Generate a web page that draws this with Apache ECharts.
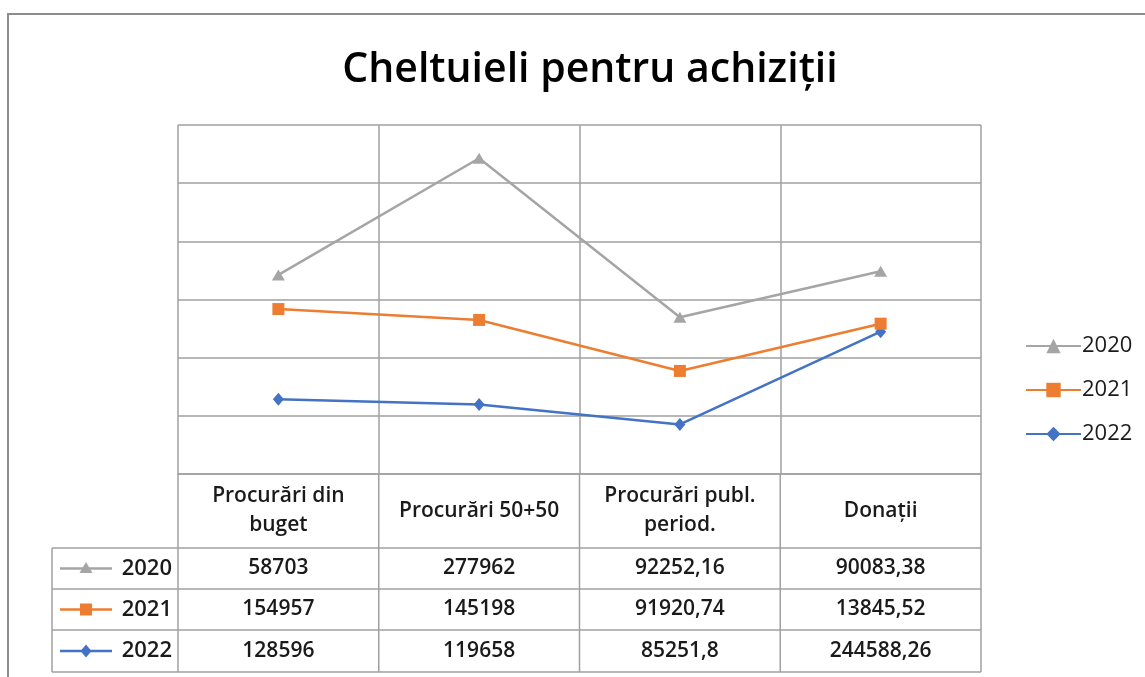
<!DOCTYPE html>
<html>
<head>
<meta charset="utf-8">
<script src="https://cdn.jsdelivr.net/npm/echarts@6/dist/echarts.min.js"></script>
<style>
  html, body { margin: 0; padding: 0; background: #fff; }
  #chart { width: 1145px; height: 677px; }
</style>
</head>
<body>
<div id="chart"></div>
<script>
// date citite din tabel
var categories = ['Procurări din\nbuget', 'Procurări 50+50', 'Procurări publ.\nperiod.', 'Donații'];
var years = ['2020', '2021', '2022'];
var values2020 = [58703, 277962, 92252.16, 90083.38];
var values2021 = [154957, 145198, 91920.74, 13845.52];
var values2022 = [128596, 119658, 85251.8, 244588.26];

var colors = { '2020': '#a5a5a5', '2021': '#ed7d31', '2022': '#4472c4' };
var symbols = { '2020': 'triangle', '2021': 'rect', '2022': 'diamond' };
var symSize = { '2020': [13, 11], '2021': [12, 12], '2022': [11, 13] };
var rows = { '2020': values2020, '2021': values2021, '2022': values2022 };

var font = '"Open Sans", "Noto Sans", sans-serif';
var gridColor = '#a0a0a0';
var textColor = '#1a1a1a';

var chart = echarts.init(document.getElementById('chart'));

function mkSeries(y) {
  return {
    name: y,
    type: 'line',
    stack: 'total',
    data: rows[y],
    symbol: symbols[y],
    symbolSize: symSize[y],
    showAllSymbol: true,
    lineStyle: { color: colors[y], width: 2.5 },
    itemStyle: { color: colors[y] },
    z: 3
  };
}

chart.setOption({
  animation: false,
  title: {
    text: 'Cheltuieli pentru achiziții',
    left: 585, top: 45, textAlign: 'center',
    textStyle: { fontFamily: font, fontSize: 41, fontWeight: 600, color: '#000' }
  },
  legend: {
    data: years,
    orient: 'vertical',
    left: 1020, top: 330,
    itemWidth: 55, itemHeight: 18, itemGap: 22,
    textStyle: { fontFamily: font, fontSize: 22, color: textColor, padding: [0, 0, 0, -4] }
  },
  grid: { left: 178, right: 164, top: 125, bottom: 203, containLabel: false },
  xAxis: {
    type: 'category',
    data: categories,
    boundaryGap: true,
    axisLine: { show: true, lineStyle: { color: gridColor, width: 1.5 } },
    axisTick: { show: false },
    splitLine: { show: true, interval: 0, lineStyle: { color: gridColor, width: 1.5 } },
    axisLabel: {
      interval: 0, margin: 37, verticalAlign: 'middle',
      fontFamily: font, fontSize: 21, fontWeight: 600, lineHeight: 29, color: textColor
    }
  },
  yAxis: {
    type: 'value',
    min: 0, max: 600000, interval: 100000,
    axisLabel: { show: false },
    axisLine: { show: false },
    axisTick: { show: false },
    splitLine: { show: true, lineStyle: { color: gridColor, width: 1.5 } }
  },
  series: [mkSeries('2022'), mkSeries('2021'), mkSeries('2020')]
});

// tabelul de date sub grafic
var rowTops = [548, 589, 630, 672];
var keyLeft = 52;
var colEdges = [];
for (var i = 0; i < categories.length; i++) {
  colEdges.push(chart.convertToPixel({ xAxisIndex: 0 }, i));
}
var half = (colEdges[1] - colEdges[0]) / 2;
var xLeft = colEdges[0] - half;
var xRight = colEdges[colEdges.length - 1] + half;
var lineStyle = { stroke: gridColor, lineWidth: 1.5 };
var g = [];

// rama exterioara
g.push({ type: 'rect', shape: { x: 8, y: 14, width: 1200, height: 700 }, style: { fill: null, stroke: '#8c8c8c', lineWidth: 2 }, silent: true });

rowTops.forEach(function (y) {
  g.push({ type: 'line', shape: { x1: keyLeft, y1: y, x2: xRight, y2: y }, style: lineStyle, silent: true });
});
g.push({ type: 'line', shape: { x1: keyLeft, y1: rowTops[0], x2: keyLeft, y2: rowTops[3] }, style: lineStyle, silent: true });
for (var c = 0; c <= categories.length; c++) {
  var x = xLeft + c * 2 * half;
  g.push({ type: 'line', shape: { x1: x, y1: 474, x2: x, y2: rowTops[3] }, style: lineStyle, silent: true });
}

years.forEach(function (y, r) {
  var cy = (rowTops[r] + rowTops[r + 1]) / 2;
  // cheia legendei in capul randului
  g.push({ type: 'line', shape: { x1: 60, y1: cy, x2: 112, y2: cy }, style: { stroke: colors[y], lineWidth: 2.5 }, silent: true });
  var s = symSize[y];
  var shape;
  if (y === '2020') {
    shape = { type: 'polygon', shape: { points: [[86, cy - s[1] / 2 - 1], [86 + s[0] / 2, cy + s[1] / 2 - 1], [86 - s[0] / 2, cy + s[1] / 2 - 1]] } };
  } else if (y === '2021') {
    shape = { type: 'rect', shape: { x: 86 - s[0] / 2, y: cy - s[1] / 2, width: s[0], height: s[1] } };
  } else {
    shape = { type: 'polygon', shape: { points: [[86, cy - s[1] / 2], [86 + s[0] / 2, cy], [86, cy + s[1] / 2], [86 - s[0] / 2, cy]] } };
  }
  shape.style = { fill: colors[y] };
  shape.silent = true;
  g.push(shape);
  g.push({ type: 'text', x: 172, y: cy, silent: true,
    style: { text: y, fontFamily: font, fontSize: 22, fontWeight: 600, fill: textColor, align: 'right', verticalAlign: 'middle' } });
  rows[y].forEach(function (v, i) {
    g.push({ type: 'text', x: colEdges[i], y: cy, silent: true,
      style: { text: String(v).replace('.', ','), fontFamily: font, fontSize: 21, fontWeight: 600, fill: textColor, align: 'center', verticalAlign: 'middle' } });
  });
});

chart.setOption({ graphic: g });
</script>
</body>
</html>
